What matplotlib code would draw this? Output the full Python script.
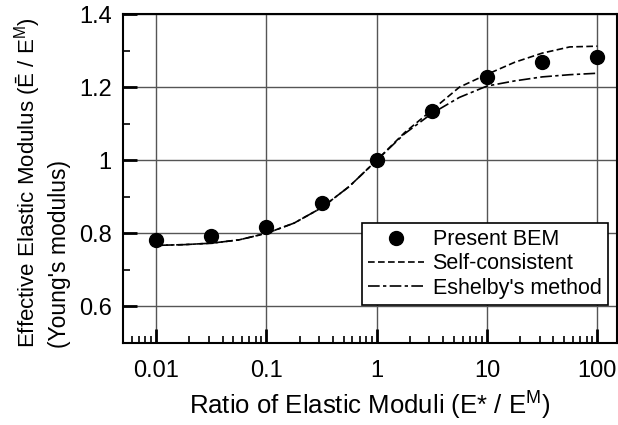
import matplotlib.pyplot as plt
from matplotlib.ticker import LogLocator, MultipleLocator, NullFormatter

plt.rcParams["font.family"] = ["Liberation Sans", "DejaVu Sans"]
plt.rcParams["mathtext.fontset"] = "custom"
plt.rcParams["mathtext.rm"] = "Liberation Sans"
plt.rcParams["mathtext.it"] = "Liberation Sans"

# Present BEM results
bem_x = [0.01, 0.0316, 0.1, 0.316, 1, 3.16, 10, 31.6, 100]
bem_y = [0.781, 0.792, 0.816, 0.882, 1.0, 1.134, 1.227, 1.268, 1.282]

# analytical curves
curve_x = [0.01, 0.0178, 0.0316, 0.0562, 0.1, 0.178, 0.316, 0.562, 1, 1.78,
           3.16, 5.62, 10, 17.8, 31.6, 56.2, 100]
self_consistent = [0.767, 0.769, 0.773, 0.782, 0.800, 0.828, 0.870, 0.928, 1.000,
                   1.075, 1.137, 1.200, 1.235, 1.268, 1.293, 1.310, 1.312]
eshelby = [0.767, 0.769, 0.773, 0.782, 0.800, 0.828, 0.870, 0.928, 1.000,
           1.072, 1.128, 1.172, 1.203, 1.217, 1.228, 1.234, 1.238]

xticks = [0.01, 0.1, 1, 10, 100]
xtick_labels = ["0.01", "0.1", "1", "10", "100"]
yticks = [0.6, 0.8, 1.0, 1.2, 1.4]
ytick_labels = ["0.6", "0.8", "1", "1.2", "1.4"]

fig = plt.figure(figsize=(6.18, 4.25), dpi=100)
ax = fig.add_axes([0.199, 0.193, 0.799, 0.774])

ax.plot(bem_x, bem_y, "o", color="black", markersize=10, label="Present BEM", zorder=5)
ax.plot(curve_x, self_consistent, color="black", lw=1.2, linestyle=(0, (4, 2)),
        label="Self-consistent")
ax.plot(curve_x, eshelby, color="black", lw=1.2, linestyle=(0, (7, 2, 2, 2)),
        label="Eshelby's method")

ax.set_xscale("log")
ax.set_xlim(0.005, 150)
ax.set_ylim(0.5, 1.4)
ax.set_xticks(xticks)
ax.set_xticklabels(xtick_labels)
ax.set_yticks(yticks)
ax.set_yticklabels(ytick_labels)
ax.xaxis.set_minor_locator(LogLocator(base=10, subs=range(2, 10)))
ax.xaxis.set_minor_formatter(NullFormatter())
ax.yaxis.set_minor_locator(MultipleLocator(0.1))

ax.grid(True, which="major", color="#555555", lw=1)
ax.tick_params(which="major", direction="in", length=10, width=2, labelsize=17)
ax.tick_params(axis="x", which="major", pad=12)
ax.tick_params(axis="y", which="major", pad=8)
ax.tick_params(which="minor", direction="in", length=5, width=1.2)
for s in ax.spines.values():
    s.set_linewidth(1.5)

ax.set_xlabel("Ratio of Elastic Moduli (E* / E$^{\\mathrm{M}}$)", fontsize=18.5, labelpad=6)

fig.text(0.045, 0.181, "Effective Elastic Modulus (Ē / E$^{\\mathrm{M}}$)",
         rotation=90, ha="center", va="bottom", fontsize=16)
fig.text(0.097, 0.181, "(Young's modulus)",
         rotation=90, ha="center", va="bottom", fontsize=16.5)

leg = ax.legend(loc="lower right", bbox_to_anchor=(0.982, 0.115), borderaxespad=0,
                fontsize=15.5, fancybox=False, framealpha=1, edgecolor="black",
                handlelength=2.6, handletextpad=0.4, labelspacing=0.15, borderpad=0.3)
leg.get_frame().set_linewidth(1.2)

plt.savefig("out.png", dpi=100)
